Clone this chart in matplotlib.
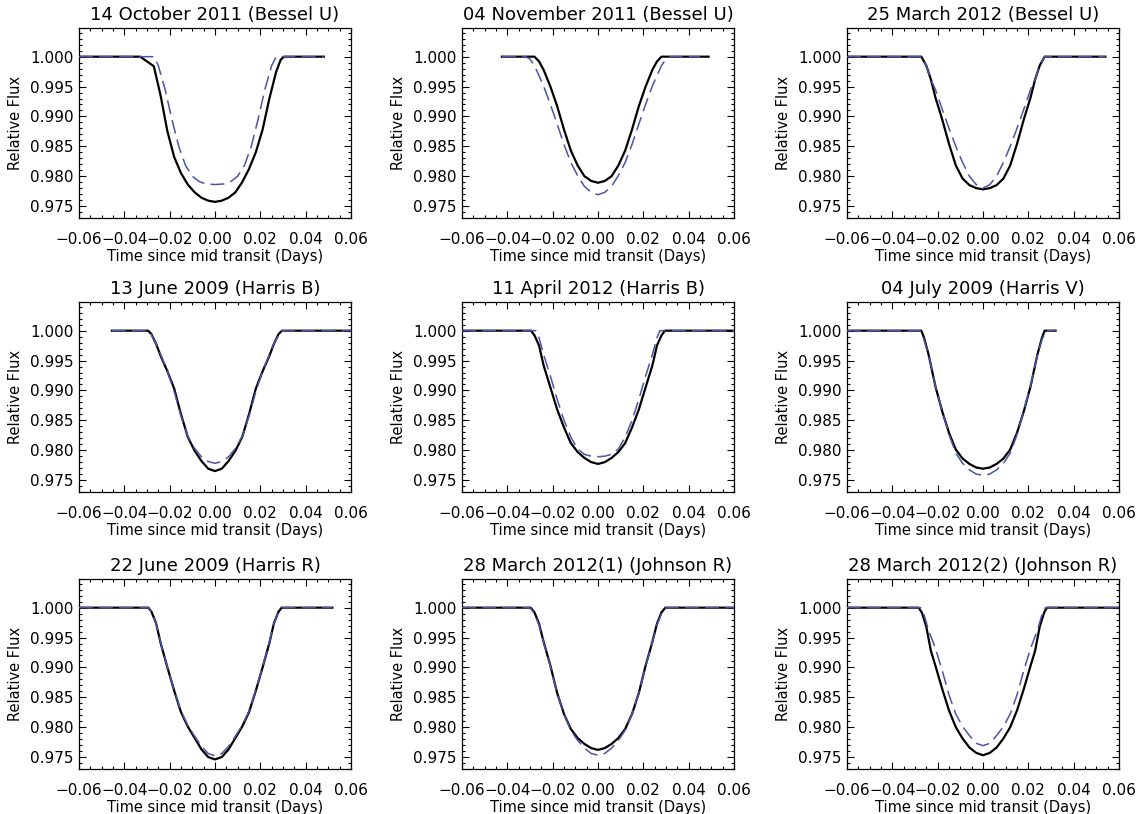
import matplotlib
matplotlib.use("Agg")
import matplotlib.pyplot as plt
from matplotlib.ticker import MultipleLocator, FuncFormatter

plt.rcParams["font.family"] = ["DejaVu Sans"]
plt.rcParams["lines.scale_dashes"] = False

C_MODEL = "black"
C_FIT = "#4a55a8"

# --- 14 October 2011 (Bessel U) ---
OCT14_T_SOLID = [-0.060, -0.033, -0.027, -0.024, -0.021, -0.018, -0.015, -0.012, -0.009, -0.006,
                 -0.003, 0.000, 0.003, 0.006, 0.009, 0.012, 0.015, 0.018, 0.021, 0.024,
                 0.027, 0.029, 0.0305, 0.048]
OCT14_F_SOLID = [1.0000, 1.0000, 0.9984, 0.9935, 0.9875, 0.9832, 0.9805, 0.9786, 0.9773, 0.9764,
                 0.9759, 0.9757, 0.9759, 0.9764, 0.9773, 0.9790, 0.9812, 0.9840, 0.9878, 0.9930,
                 0.9975, 0.9995, 1.0000, 1.0000]
OCT14_T_DASH = [-0.060, -0.027, -0.025, -0.022, -0.019, -0.016, -0.013, -0.010, -0.007, -0.004,
                0.000, 0.004, 0.007, 0.010, 0.013, 0.016, 0.019, 0.022, 0.025, 0.027, 0.048]
OCT14_F_DASH = [1.0000, 1.0000, 0.9985, 0.9945, 0.9895, 0.9850, 0.9818, 0.9800, 0.9791, 0.9787,
                0.9786, 0.9787, 0.9791, 0.9800, 0.9818, 0.9850, 0.9895, 0.9945, 0.9985, 1.0000, 1.0000]

# --- 04 November 2011 (Bessel U) ---
NOV04_T_SOLID = [-0.0424, -0.028, -0.026, -0.024, -0.021, -0.018, -0.015, -0.012, -0.009, -0.006,
                 -0.003, 0.000, 0.003, 0.006, 0.009, 0.012, 0.015, 0.018, 0.021, 0.024,
                 0.026, 0.028, 0.0488]
NOV04_F_SOLID = [1.0000, 1.0000, 0.9992, 0.9978, 0.9950, 0.9917, 0.9878, 0.9843, 0.9818, 0.9800,
                 0.9792, 0.9789, 0.9792, 0.9800, 0.9818, 0.9843, 0.9878, 0.9917, 0.9950, 0.9978,
                 0.9992, 1.0000, 1.0000]
NOV04_T_DASH = [-0.0424, -0.032, -0.030, -0.028, -0.026, -0.024, -0.021, -0.018, -0.015, -0.012,
                -0.009, -0.006, -0.003, 0.000, 0.003, 0.006, 0.009, 0.012, 0.015, 0.018,
                0.021, 0.024, 0.026, 0.028, 0.030, 0.032, 0.045]
NOV04_F_DASH = [1.0000, 1.0000, 0.9996, 0.9985, 0.9968, 0.9951, 0.9920, 0.9887, 0.9853, 0.9823,
                0.9801, 0.9783, 0.9773, 0.9769, 0.9773, 0.9783, 0.9801, 0.9823, 0.9853, 0.9887,
                0.9920, 0.9951, 0.9968, 0.9985, 0.9996, 1.0000, 1.0000]

# --- 25 March 2012 (Bessel U) ---
MAR25_T_SOLID = [-0.060, -0.0272, -0.025, -0.023, -0.021, -0.018, -0.015, -0.012, -0.009, -0.006,
                 -0.003, 0.000, 0.003, 0.006, 0.009, 0.012, 0.015, 0.018, 0.021, 0.023,
                 0.025, 0.0272, 0.054]
MAR25_F_SOLID = [1.0000, 1.0000, 0.9985, 0.9962, 0.9932, 0.9895, 0.9854, 0.9818, 0.9796, 0.9785,
                 0.9780, 0.9778, 0.9780, 0.9785, 0.9796, 0.9818, 0.9854, 0.9895, 0.9932, 0.9962,
                 0.9985, 1.0000, 1.0000]
MAR25_T_DASH = [-0.060, -0.0272, -0.025, -0.023, -0.021, -0.018, -0.015, -0.012, -0.009, -0.006,
                -0.003, 0.000, 0.003, 0.006, 0.009, 0.012, 0.015, 0.018, 0.021, 0.023,
                0.025, 0.0272, 0.054]
MAR25_F_DASH = [1.0000, 1.0000, 0.9985, 0.9962, 0.9945, 0.9912, 0.9880, 0.9850, 0.9823, 0.9800,
                0.9786, 0.9780, 0.9786, 0.9800, 0.9823, 0.9850, 0.9880, 0.9912, 0.9945, 0.9962,
                0.9985, 1.0000, 1.0000]

# --- 13 June 2009 (Harris B) ---
JUN13_T_SOLID = [-0.0455, -0.0295, -0.028, -0.026, -0.024, -0.021, -0.018, -0.015, -0.012, -0.009,
                 -0.006, -0.003, 0.000, 0.003, 0.006, 0.009, 0.012, 0.015, 0.018, 0.021,
                 0.024, 0.026, 0.028, 0.0295, 0.060]
JUN13_F_SOLID = [1.0000, 1.0000, 0.9994, 0.9978, 0.9958, 0.9932, 0.9903, 0.9860, 0.9822, 0.9799,
                 0.9782, 0.9769, 0.9765, 0.9769, 0.9782, 0.9799, 0.9822, 0.9860, 0.9903, 0.9932,
                 0.9958, 0.9978, 0.9994, 1.0000, 1.0000]
JUN13_T_DASH = [-0.0455, -0.0295, -0.028, -0.026, -0.024, -0.021, -0.018, -0.015, -0.012, -0.009,
                -0.006, -0.003, 0.000, 0.003, 0.006, 0.009, 0.012, 0.015, 0.018, 0.021,
                0.024, 0.026, 0.028, 0.0295, 0.060]
JUN13_F_DASH = [1.0000, 1.0000, 0.9993, 0.9978, 0.9960, 0.9933, 0.9898, 0.9857, 0.9823, 0.9803,
                0.9789, 0.9781, 0.9778, 0.9781, 0.9789, 0.9803, 0.9823, 0.9857, 0.9898, 0.9933,
                0.9960, 0.9978, 0.9993, 1.0000, 1.0000]

# --- 11 April 2012 (Harris B) ---
APR11_T_SOLID = [-0.060, -0.0295, -0.028, -0.026, -0.024, -0.021, -0.018, -0.015, -0.012, -0.009,
                 -0.006, -0.003, 0.000, 0.003, 0.006, 0.009, 0.012, 0.015, 0.018, 0.021,
                 0.024, 0.026, 0.028, 0.0295, 0.060]
APR11_F_SOLID = [1.0000, 1.0000, 0.9992, 0.9975, 0.9942, 0.9905, 0.9868, 0.9838, 0.9812, 0.9797,
                 0.9787, 0.9780, 0.9777, 0.9780, 0.9787, 0.9797, 0.9812, 0.9838, 0.9868, 0.9905,
                 0.9942, 0.9975, 0.9992, 1.0000, 1.0000]
APR11_T_DASH = [-0.060, -0.0273, -0.026, -0.024, -0.021, -0.018, -0.015, -0.012, -0.009, -0.006,
                -0.003, 0.000, 0.003, 0.006, 0.009, 0.012, 0.015, 0.018, 0.021, 0.024,
                0.026, 0.0273, 0.060]
APR11_F_DASH = [1.0000, 1.0000, 0.9988, 0.9960, 0.9924, 0.9885, 0.9850, 0.9822, 0.9802, 0.9793,
                0.9790, 0.9789, 0.9790, 0.9793, 0.9802, 0.9822, 0.9850, 0.9885, 0.9924, 0.9960,
                0.9988, 1.0000, 1.0000]

# --- 04 July 2009 (Harris V) ---
JUL04_T_SOLID = [-0.060, -0.0272, -0.026, -0.024, -0.021, -0.018, -0.015, -0.012, -0.009, -0.006,
                 -0.003, 0.000, 0.003, 0.006, 0.009, 0.012, 0.015, 0.018, 0.021, 0.024,
                 0.026, 0.0272, 0.032]
JUL04_F_SOLID = [1.0000, 1.0000, 0.9988, 0.9960, 0.9907, 0.9865, 0.9829, 0.9801, 0.9786, 0.9777,
                 0.9771, 0.9769, 0.9771, 0.9777, 0.9786, 0.9801, 0.9829, 0.9865, 0.9907, 0.9960,
                 0.9988, 1.0000, 1.0000]
JUL04_T_DASH = [-0.060, -0.0278, -0.026, -0.024, -0.021, -0.018, -0.015, -0.012, -0.009, -0.006,
                -0.003, 0.000, 0.003, 0.006, 0.009, 0.012, 0.015, 0.018, 0.021, 0.024,
                0.026, 0.0278, 0.032]
JUL04_F_DASH = [1.0000, 1.0000, 0.9985, 0.9960, 0.9908, 0.9866, 0.9826, 0.9795, 0.9778, 0.9767,
                0.9760, 0.9758, 0.9760, 0.9767, 0.9778, 0.9795, 0.9826, 0.9866, 0.9908, 0.9960,
                0.9985, 1.0000, 1.0000]

# --- 22 June 2009 (Harris R) ---
JUN22_T_SOLID = [-0.060, -0.0294, -0.028, -0.026, -0.024, -0.021, -0.018, -0.015, -0.012, -0.009,
                 -0.006, -0.003, 0.000, 0.003, 0.006, 0.009, 0.012, 0.015, 0.018, 0.021,
                 0.024, 0.026, 0.028, 0.0294, 0.0518]
JUN22_F_SOLID = [1.0000, 1.0000, 0.9993, 0.9974, 0.9941, 0.9900, 0.9861, 0.9825, 0.9801, 0.9782,
                 0.9763, 0.9750, 0.9746, 0.9750, 0.9763, 0.9782, 0.9801, 0.9825, 0.9861, 0.9900,
                 0.9941, 0.9974, 0.9993, 1.0000, 1.0000]
JUN22_T_DASH = [-0.060, -0.0294, -0.028, -0.026, -0.024, -0.021, -0.018, -0.015, -0.012, -0.009,
                -0.006, -0.003, 0.000, 0.003, 0.006, 0.009, 0.012, 0.015, 0.018, 0.021,
                0.024, 0.026, 0.028, 0.0294, 0.0518]
JUN22_F_DASH = [1.0000, 1.0000, 0.9993, 0.9974, 0.9942, 0.9901, 0.9862, 0.9827, 0.9803, 0.9785,
                0.9768, 0.9756, 0.9752, 0.9756, 0.9768, 0.9785, 0.9803, 0.9827, 0.9862, 0.9901,
                0.9942, 0.9974, 0.9993, 1.0000, 1.0000]

# --- 28 March 2012(1) (Johnson R) ---
MAR28A_T_SOLID = [-0.060, -0.0297, -0.028, -0.026, -0.024, -0.021, -0.018, -0.015, -0.012, -0.009,
                  -0.006, -0.003, 0.000, 0.003, 0.006, 0.009, 0.012, 0.015, 0.018, 0.021,
                  0.024, 0.026, 0.028, 0.0297, 0.060]
MAR28A_F_SOLID = [1.0000, 1.0000, 0.9992, 0.9973, 0.9943, 0.9903, 0.9857, 0.9822, 0.9797, 0.9782,
                  0.9772, 0.9765, 0.9762, 0.9765, 0.9772, 0.9782, 0.9797, 0.9822, 0.9857, 0.9903,
                  0.9943, 0.9973, 0.9992, 1.0000, 1.0000]
MAR28A_T_DASH = [-0.060, -0.0300, -0.028, -0.026, -0.024, -0.021, -0.018, -0.015, -0.012, -0.009,
                 -0.006, -0.003, 0.000, 0.003, 0.006, 0.009, 0.012, 0.015, 0.018, 0.021,
                 0.024, 0.026, 0.028, 0.0300, 0.060]
MAR28A_F_DASH = [1.0000, 1.0000, 0.9990, 0.9971, 0.9942, 0.9902, 0.9857, 0.9822, 0.9795, 0.9778,
                 0.9765, 0.9756, 0.9753, 0.9756, 0.9765, 0.9778, 0.9795, 0.9822, 0.9857, 0.9902,
                 0.9942, 0.9971, 0.9990, 1.0000, 1.0000]

# --- 28 March 2012(2) (Johnson R) ---
MAR28B_T_SOLID = [-0.060, -0.0284, -0.027, -0.025, -0.023, -0.021, -0.018, -0.015, -0.012, -0.009,
                  -0.006, -0.003, 0.000, 0.003, 0.006, 0.009, 0.012, 0.015, 0.018, 0.021,
                  0.023, 0.025, 0.027, 0.0282, 0.060]
MAR28B_F_SOLID = [1.0000, 1.0000, 0.9992, 0.9968, 0.9928, 0.9903, 0.9864, 0.9828, 0.9800, 0.9781,
                  0.9766, 0.9757, 0.9753, 0.9757, 0.9766, 0.9781, 0.9800, 0.9828, 0.9864, 0.9903,
                  0.9928, 0.9968, 0.9992, 1.0000, 1.0000]
MAR28B_T_DASH = [-0.060, -0.0275, -0.026, -0.024, -0.021, -0.018, -0.015, -0.012, -0.009, -0.006,
                 -0.003, 0.000, 0.003, 0.006, 0.009, 0.012, 0.015, 0.018, 0.021, 0.024,
                 0.026, 0.0275, 0.060]
MAR28B_F_DASH = [1.0000, 1.0000, 0.9988, 0.9962, 0.9932, 0.9895, 0.9854, 0.9822, 0.9801, 0.9786,
                 0.9773, 0.9769, 0.9773, 0.9786, 0.9801, 0.9822, 0.9854, 0.9895, 0.9932, 0.9962,
                 0.9988, 1.0000, 1.0000]

PANELS = [
    ("14 October 2011 (Bessel U)", OCT14_T_SOLID, OCT14_F_SOLID, OCT14_T_DASH, OCT14_F_DASH),
    ("04 November 2011 (Bessel U)", NOV04_T_SOLID, NOV04_F_SOLID, NOV04_T_DASH, NOV04_F_DASH),
    ("25 March 2012 (Bessel U)", MAR25_T_SOLID, MAR25_F_SOLID, MAR25_T_DASH, MAR25_F_DASH),
    ("13 June 2009 (Harris B)", JUN13_T_SOLID, JUN13_F_SOLID, JUN13_T_DASH, JUN13_F_DASH),
    ("11 April 2012 (Harris B)", APR11_T_SOLID, APR11_F_SOLID, APR11_T_DASH, APR11_F_DASH),
    ("04 July 2009 (Harris V)", JUL04_T_SOLID, JUL04_F_SOLID, JUL04_T_DASH, JUL04_F_DASH),
    ("22 June 2009 (Harris R)", JUN22_T_SOLID, JUN22_F_SOLID, JUN22_T_DASH, JUN22_F_DASH),
    ("28 March 2012(1) (Johnson R)", MAR28A_T_SOLID, MAR28A_F_SOLID, MAR28A_T_DASH, MAR28A_F_DASH),
    ("28 March 2012(2) (Johnson R)", MAR28B_T_SOLID, MAR28B_F_SOLID, MAR28B_T_DASH, MAR28B_F_DASH),
]

W, H = 1142, 814
COL_LEFT = [79, 462, 847]
ROW_TOP = [28, 302, 579]
AX_W, AX_H = 272, 190


def _fmt(decimals):
    def f(v, pos):
        if abs(v) < 1e-12:
            v = 0.0
        return f"{v:.{decimals}f}".replace("-", "\u2212")
    return FuncFormatter(f)


fig = plt.figure(figsize=(W / 100, H / 100), dpi=100)

for i, (title, ts, fs, td, fd) in enumerate(PANELS):
    r, c = divmod(i, 3)
    ax = fig.add_axes([COL_LEFT[c] / W, 1 - (ROW_TOP[r] + AX_H) / H, AX_W / W, AX_H / H])
    ax.plot(ts, fs, color=C_MODEL, lw=1.6, zorder=2)
    ax.plot(td, fd, color=C_FIT, lw=1.1, dashes=(10, 4.5), zorder=3)

    ax.set_xlim(-0.06, 0.06)
    ax.set_ylim(0.973, 1.0048)
    ax.xaxis.set_major_locator(MultipleLocator(0.02))
    ax.xaxis.set_minor_locator(MultipleLocator(0.005))
    ax.yaxis.set_major_locator(MultipleLocator(0.005))
    ax.yaxis.set_minor_locator(MultipleLocator(0.001))
    ax.xaxis.set_major_formatter(_fmt(2))
    ax.yaxis.set_major_formatter(_fmt(3))
    ax.tick_params(which="both", direction="in", top=True, right=True,
                   labelsize=11, width=0.8)
    ax.tick_params(axis="x", which="major", pad=10)
    ax.tick_params(axis="y", which="major", pad=4)
    ax.tick_params(which="major", length=5)
    ax.tick_params(which="minor", length=2.5)
    for sp in ax.spines.values():
        sp.set_linewidth(0.9)

    ax.set_title(title, fontsize=13, pad=6)
    ax.set_xlabel("Time since mid transit (Days)", fontsize=10.5, labelpad=1.5)
    ax.set_ylabel("Relative Flux", fontsize=10.5, labelpad=5)

fig.savefig("out.png", dpi=100)
